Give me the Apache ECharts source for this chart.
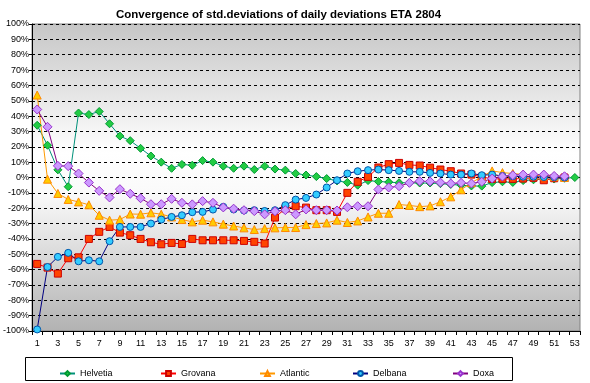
<!DOCTYPE html>
<html>
<head>
<meta charset="utf-8">
<script src="https://cdn.jsdelivr.net/npm/echarts@6/dist/echarts.min.js"></script>
<style>html,body{margin:0;padding:0;background:#fff}#c{width:590px;height:383px}</style>
</head>
<body>
<div id="c"></div>
<script>
var categories = ['1','2','3','4','5','6','7','8','9','10','11','12','13','14','15','16','17','18','19','20','21','22','23','24','25','26','27','28','29','30','31','32','33','34','35','36','37','38','39','40','41','42','43','44','45','46','47','48','49','50','51','52','53'];
var helvetia = [34, 21, 5, -6, 42, 41, 43, 35, 27, 24, 19, 14, 10, 6, 8.5, 8, 11, 10, 7.4, 6, 7.4, 5.2, 7.4, 5.5, 4.8, 2.6, 1.6, 0.6, -0.7, -2.2, -3.2, -5, -2, -2.6, -3, -3.4, -3.5, -3.6, -3.6, -4, -4.5, -5, -5.5, -5.6, -3.3, -2.8, -3.2, -2, -1.5, -1, -1, -0.5, 0];
var grovana = [-56.3, -58.7, -62.6, -52.6, -52, -40, -35.4, -32.2, -35.9, -37.6, -40, -42.2, -43.5, -42.6, -43.3, -40, -40.9, -40.9, -40.9, -40.9, -41.3, -41.9, -43, -26.1, -20.2, -18.7, -19.6, -21.3, -21.3, -22.4, -10, -2.8, 0.4, 6.5, 8.7, 9.5, 8.2, 7.8, 6.4, 5.2, 4.1, 2.6, 1.9, 0.4, -0.9, -0.9, -0.9, -0.7, -0.2, -1.8, -0.5, 0];
var atlantic = [53.7, -1.1, -10.4, -14.3, -15.9, -17.8, -24.6, -27.8, -27.4, -23.8, -23.9, -23, -23.9, -25.7, -27.4, -28.9, -27.8, -28.9, -30.4, -31.6, -32.8, -33.9, -33.3, -32.8, -32.6, -32.6, -30.7, -30, -29.6, -27.8, -29.3, -28.3, -25.7, -23.3, -23.3, -17.6, -18.2, -19, -18.5, -15.8, -12.6, -8, -3.4, 0.5, 4.3, 3.2, 2.6, 2, 1.5, 1, 0.5, 0];
var delbana = [-99, -58.3, -51.7, -49.1, -54.6, -53.9, -54.6, -41.5, -32.2, -32.2, -32.2, -30, -27.4, -25.7, -24.6, -22.6, -22.4, -20.9, -19.1, -20.8, -21.5, -21.3, -21.8, -21.3, -18, -14.4, -13.3, -11.1, -6.5, -1.8, 2.6, 4.1, 4.8, 5.2, 4.8, 4.3, 3.7, 3.7, 3, 2.6, 1.9, 1.9, 2.6, 1.5, 1.9, 1, 0.8, 0.5, 0.5, 0.3, 0.2, 0];
var doxa = [44.3, 33, 7.6, 7.4, 2.6, -3.3, -8.7, -13, -7.6, -10.6, -13.5, -17.4, -17.4, -13.9, -16.5, -17.5, -15.4, -16.5, -19.5, -20.3, -21.3, -21.9, -24, -22, -21.3, -24, -20.8, -21.3, -21.3, -21.5, -19.4, -18.7, -18.7, -7.8, -6.5, -5.7, -3.5, -2.4, -2.6, -3.3, -3.9, -3.5, -3.9, -2.8, -0.7, 0.6, 1.5, 1.9, 1.9, 1.9, 1, 0.8];
var seriesNames = ['Helvetia', 'Grovana', 'Atlantic', 'Delbana', 'Doxa'];
var seriesData = [helvetia, grovana, atlantic, delbana, doxa];
var yTicks = {min: -100, max: 100, step: 10};

var styles = [
  {line: '#00917a', fill: '#22cc44', border: '#009933', symbol: 'diamond', size: 8},
  {line: '#ff0000', fill: '#ff4400', border: '#cc0000', symbol: 'rect', size: 7},
  {line: '#ff9900', fill: '#ffcc00', border: '#ff8800', symbol: 'triangle', size: 8},
  {line: '#000080', fill: '#33ccff', border: '#0055aa', symbol: 'circle', size: 7},
  {line: '#800080', fill: '#cc99ff', border: '#9933cc', symbol: 'diamond', size: 9}
];
var FONT = 'Liberation Sans, Arial, sans-serif';
var legendLefts = [54, 155, 254, 347, 447];

var series = seriesNames.map(function (n, i) {
  var s = styles[i];
  return {
    name: n, type: 'line', xAxisIndex: 0, yAxisIndex: 0,
    data: seriesData[i],
    symbol: s.symbol, symbolSize: s.size, showSymbol: true, showAllSymbol: true,
    lineStyle: {color: s.line, width: 1},
    itemStyle: {color: s.fill, borderColor: s.border, borderWidth: 1},
    animation: false
  };
});

var legends = seriesNames.map(function (n, i) {
  return {
    data: [n], left: legendLefts[i], top: 364, itemWidth: 15, itemHeight: 6, itemGap: 4,
    textStyle: {fontFamily: FONT, fontSize: 9, color: '#000'}, selectedMode: false
  };
});

var chart = echarts.init(document.getElementById('c'), null, {renderer: 'canvas'});
chart.setOption({
  backgroundColor: '#fff',
  animation: false,
  title: {
    text: 'Convergence of std.deviations of daily deviations ETA 2804',
    left: 111, top: 4,
    textStyle: {fontFamily: FONT, fontSize: 11.5, fontWeight: 'bold', color: '#000'}
  },
  grid: {
    left: 30, right: 10, top: 24, bottom: 52,
    show: true, borderColor: '#808080', borderWidth: 1,
    backgroundColor: new echarts.graphic.LinearGradient(0, 0, 0, 1, [
      {offset: 0, color: '#c6c6c6'},
      {offset: 0.42, color: '#ffffff'},
      {offset: 0.55, color: '#fafafa'},
      {offset: 1, color: '#b2b2b2'}
    ])
  },
  graphic: [{
    type: 'rect', left: 25, top: 357, shape: {width: 487, height: 23},
    style: {fill: '#fff', stroke: '#000', lineWidth: 1}, z: 0
  }],
  legend: legends,
  xAxis: [{
    type: 'category', data: categories, boundaryGap: true, position: 'bottom',
    axisLine: {show: false}, axisTick: {show: false},
    axisLabel: {interval: 1, margin: 8, fontFamily: FONT, fontSize: 9, color: '#000'},
    splitLine: {show: false}, splitArea: {show: false}
  }, {
    type: 'category', data: categories, boundaryGap: true, position: 'bottom',
    axisLine: {show: true, onZero: true, lineStyle: {color: '#000', width: 1}},
    axisTick: {show: true, interval: 0, length: 4, lineStyle: {color: '#000'}},
    axisLabel: {show: false}, splitLine: {show: false}, splitArea: {show: false}
  }],
  yAxis: {
    type: 'value', min: yTicks.min, max: yTicks.max, interval: yTicks.step,
    axisLine: {show: true, lineStyle: {color: '#000', width: 1}},
    axisTick: {show: true, length: 3, lineStyle: {color: '#000'}},
    axisLabel: {formatter: '{value}%', margin: 3, fontFamily: FONT, fontSize: 9, color: '#000'},
    splitLine: {show: true, lineStyle: {color: '#000', type: [3, 3], width: 1}},
    splitArea: {show: false}
  },
  series: series
});
</script>
</body>
</html>
